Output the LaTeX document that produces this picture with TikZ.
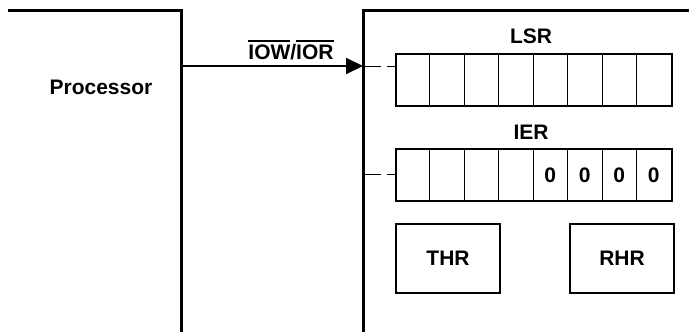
\documentclass[tikz,border=0pt]{standalone}
\usepackage{fontspec}
\setmainfont{Liberation Sans}
\usetikzlibrary{arrows.meta,positioning}
\newcommand\ovbar[1]{\vbox{\hrule height 1.6pt\kern 2.5pt\hbox{#1}}}
\tikzset{
  wall/.style={line width=3pt},
  regbox/.style={draw, line width=2pt, minimum width=276pt, minimum height=52pt, inner sep=0pt},
  holdbox/.style={draw, line width=2pt, minimum width=104pt, minimum height=69pt, inner sep=0pt},
  lbl/.style={font=\fontsize{21}{25}\selectfont\bfseries},
  tap/.style={line width=1pt, dash pattern=on 18pt off 6pt},
}
\begin{document}
\begin{tikzpicture}[x=1pt,y=-1pt]
  \useasboundingbox (0,0) rectangle (689,332);
  % processor side
  \draw[wall] (8,10) -- (181,10) -- (181,332);
  \node[lbl] (proc) at (101,87) {Processor};
  % uart side
  \draw[wall] (689,10) -- (363,10) -- (363,332);
  \coordinate (pout) at (181,66);
  \coordinate (uin) at (363,66);
  \coordinate (ierin) at (363,174);
  \draw[line width=2pt, -{Triangle[length=17pt,width=16pt]}] (pout) -- (uin);
  \node[lbl, anchor=base] (sig) at (291,59) {\ovbar{IOW}/\ovbar{IOR}};
  % registers
  \node[lbl] (lsrlbl) at (531,36) {LSR};
  \node[regbox] (lsr) at (534,80) {};
  \node[lbl] (ierlbl) at (531,132) {IER};
  \node[regbox] (ier) at (534,175) {};
  \foreach \i in {1,...,7} {
    \draw[line width=1pt] ([xshift=\i*34.5pt]lsr.north west) -- ([xshift=\i*34.5pt]lsr.south west);
    \draw[line width=1pt] ([xshift=\i*34.5pt]ier.north west) -- ([xshift=\i*34.5pt]ier.south west);
  }
  \foreach \i in {4,...,7} {
    \pgfmathsetmacro\cx{(\i+0.5)*34.5}
    \node[lbl] at ([xshift=\cx pt]ier.west) {0};
  }
  \draw[tap] (uin) -- (uin -| lsr.west);
  \draw[tap] (ierin) -- (ierin -| ier.west);
  % holding registers
  \node[holdbox, lbl] (thr) at (448,258.5) {THR};
  \node[holdbox, lbl] (rhr) at (622,258.5) {RHR};
\end{tikzpicture}
\end{document}
